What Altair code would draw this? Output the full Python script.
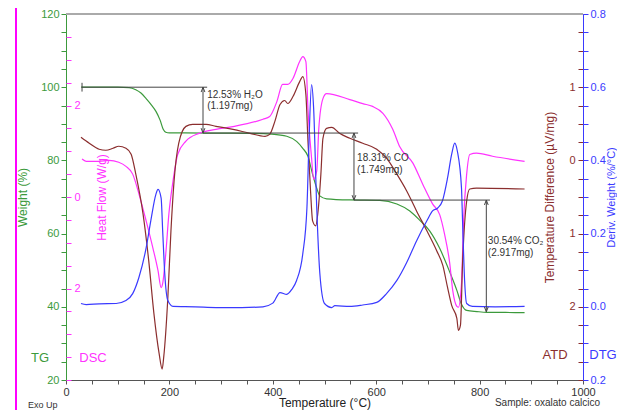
import altair as alt
import pandas as pd

# ---------------- data ----------------
# TG (weight %, green)
tg_T = [29, 60, 100, 122, 135, 145, 155, 165, 174, 182, 188, 193, 200, 230, 300, 360, 398, 427, 446, 458,
        468, 477, 485, 491, 504, 549, 607, 640, 665, 684, 703, 723, 742, 756, 765, 775, 795, 814, 850, 887]
tg_W = [100, 100, 100, 99.9, 99.3, 98.4, 96.9, 95.2, 93.4, 91.0, 88.5, 87.7, 87.5, 87.5, 87.45, 87.4, 87.2, 86.6, 85.2, 83.3,
        81.1, 76.2, 72.4, 70.3, 69.5, 69.2, 69.1, 68.1, 66.2, 63.7, 60.8, 55.9, 49.6, 44.5, 40.7, 39.0, 38.7, 38.5, 38.45, 38.4]

# DTG (deriv. weight %/°C, blue)
dtg_T = [29, 39, 64, 97, 116, 129, 141, 155, 164, 174, 178, 184, 187, 191, 197, 207, 250, 290, 340, 381,
         400, 414, 427, 437, 446, 458, 466, 470, 475, 479, 485, 491, 500, 514, 520, 549, 574, 601, 620, 640,
         659, 678, 698, 709, 719, 728, 738, 746, 752, 757, 765, 767, 771, 775, 786, 830, 887]
dtg_D = [0.009, 0.006, 0.008, 0.009, 0.017, 0.036, 0.080, 0.161, 0.235, 0.308, 0.321, 0.297, 0.208, 0.091, 0.017, 0.001, 0.0, -0.002, -0.002, 0.0,
         0.010, 0.039, 0.034, 0.048, 0.072, 0.145, 0.270, 0.452, 0.607, 0.542, 0.270, 0.091, 0.009, -0.002, 0.003, 0.001, 0.005, 0.012, 0.036, 0.072,
         0.121, 0.180, 0.235, 0.262, 0.270, 0.289, 0.352, 0.417, 0.447, 0.425, 0.324, 0.235, 0.072, 0.009, 0.001, 0.0, 0.001]

# DSC heat flow (W/g, magenta)
hf_T = [31, 39, 64, 83, 102, 116, 129, 141, 155, 168, 178, 184, 187, 193, 199, 207, 216, 232, 257, 290,
        323, 381, 394, 408, 419, 429, 439, 452, 458, 464, 468, 475, 479, 485, 489, 497, 504, 549, 574, 593,
        613, 632, 645, 671, 690, 709, 723, 732, 742, 748, 756, 759, 765, 769, 775, 781, 794, 825, 887]
hf_H = [0.83, 0.78, 0.78, 0.80, 0.76, 0.67, 0.50, 0.07, -0.52, -1.11, -1.61, -1.98, -1.89, -1.24, -0.37, 0.35, 0.93, 1.22, 1.39, 1.48,
        1.54, 1.70, 1.76, 2.09, 2.46, 2.46, 2.59, 2.96, 3.07, 2.96, 1.93, 0.85, 0.39, 0.57, 1.50, 2.15, 2.26, 2.13, 2.04, 1.98,
        1.83, 1.48, 1.11, 0.74, 0.28, -0.15, -0.39, -0.80, -1.43, -2.04, -2.39, -2.41, -1.89, -0.52, 0.50, 0.93, 0.96, 0.89, 0.78]

# ATD temperature difference (µV/mg, brown)
atd_T = [29, 45, 64, 77, 91, 102, 116, 126, 135, 149, 160, 170, 180, 186, 189, 197, 203, 209, 218, 232,
         245, 271, 290, 323, 356, 385, 394, 404, 414, 423, 429, 439, 452, 458, 464, 468, 473, 477, 483, 487,
         493, 497, 504, 514, 529, 549, 574, 601, 620, 640, 659, 678, 698, 717, 729, 738, 746, 756, 759, 763,
         767, 775, 781, 794, 887]
atd_A = [0.315, 0.234, 0.152, 0.139, 0.166, 0.193, 0.166, 0.084, -0.188, -0.731, -1.370, -2.090, -2.633, -2.851, -2.688, -1.872, -0.962, -0.283, 0.234, 0.465,
         0.492, 0.492, 0.465, 0.424, 0.370, 0.329, 0.356, 0.533, 0.764, 0.818, 0.777, 0.872, 1.076, 1.144, 0.899, 0.261, -0.418, -0.826, -0.894, -0.731,
         -0.188, 0.302, 0.438, 0.451, 0.370, 0.302, 0.234, 0.152, 0.030, -0.188, -0.418, -0.690, -0.962, -1.234, -1.438, -1.736, -1.981, -2.158, -2.321, -2.25,
         -1.41, -0.554, -0.391, -0.378, -0.391]

# mass-loss annotations
hseg_T1 = [31, 265, 557]
hseg_T2 = [273, 565, 820]
hseg_W = [100, 87.47, 69.16]
arr_T = [265, 557, 813]
arr_Wtop = [100, 87.47, 69.16]
arr_Wbot = [87.47, 69.16, 38.62]
ann_T = [273, 273, 563, 563, 816, 816]
ann_W = [98.0, 95.0, 80.6, 77.3, 58.0, 54.8]
ann_text = ["12.53% H\u2082O", "(1.197mg)", "18.31% CO", "(1.749mg)", "30.54% CO\u2082", "(2.917mg)"]

# ---------------- styling ----------------
FONT = "Liberation Sans"
GREEN = "#3c9a3c"
MAG = "#ff33ff"
BROWN = "#8b2e2e"
BLUE = "#3a3aff"
DARK = "#444444"
W_PLOT, H_PLOT = 517, 366
MID = H_PLOT / 2

title_common = dict(titleFont=FONT, titleFontWeight="normal",
                    titleAngle=270, titleBaseline="middle", titleAlign="center", titleY=MID)

xscale = alt.Scale(domain=[0, 1000], nice=False, zero=False)
xaxis = alt.Axis(values=list(range(0, 1001, 50)), format="d",
                 labelExpr="datum.value % 200 == 0 ? datum.label : ''",
                 tickSize=4, domainColor="#555555", tickColor="#555555", labelColor="#333333",
                 labelFontSize=11, labelFont=FONT, labelPadding=2, labelOverlap=False, labelFlush=False,
                 title="Temperature (°C)", titleFont=FONT, titleFontSize=12, titleFontWeight="normal",
                 titleColor="#222222", titlePadding=0, grid=False)
X = alt.X("T:Q", scale=xscale, axis=xaxis)

ax_w = alt.Axis(orient="left", values=list(range(20, 121, 5)),
                labelExpr="datum.value % 20 == 0 ? datum.label : ''",
                tickSize=5, domainColor=GREEN, tickColor=GREEN, labelColor=GREEN, labelFontSize=11,
                labelFont=FONT, labelOverlap=False, labelPadding=2,
                title="Weight (%)", titleColor=GREEN, titleFontSize=12, titleX=-44, grid=False,
                **title_common)
ax_h = alt.Axis(orient="right", offset=-W_PLOT, values=[v * 0.5 for v in range(-8, 9)],
                labelExpr="abs(datum.value) == 2 || datum.value == 0 ? '' + abs(datum.value) : ''",
                domain=False, tickSize=5, tickColor=MAG, labelColor=MAG, labelFontSize=11,
                labelFont=FONT, labelOverlap=False, labelPadding=3,
                title="Heat Flow (W/g)", titleColor=MAG, titleFontSize=12, titleX=35, grid=False,
                **title_common)
ax_a = alt.Axis(orient="left", offset=-W_PLOT, values=[v * 0.25 for v in range(-12, 9)],
                labelExpr="datum.value == round(datum.value) && datum.value >= -2 && datum.value <= 1 ? '' + abs(datum.value) : ''",
                domain=False, tickSize=5, tickColor=BROWN, labelColor=BROWN, labelFontSize=11,
                labelFont=FONT, labelOverlap=False, labelPadding=3,
                title="Temperature Difference (µV/mg)", titleColor=BROWN, titleFontSize=12,
                titleX=-34, grid=False, **title_common)
ax_d = alt.Axis(orient="right", values=[round(v * 0.05, 2) for v in range(-4, 17)],
                labelExpr="abs(round(datum.value * 20)) % 4 == 0 ? format(abs(datum.value), '.1f') : ''",
                domainColor=BLUE, tickColor=BLUE, tickSize=5, labelColor=BLUE, labelFontSize=11,
                labelFont=FONT, labelOverlap=False, labelPadding=2,
                title="Deriv. Weight (%/°C)", titleColor=BLUE, titleFontSize=11, titleX=28, grid=False,
                **title_common)

sc_w = alt.Scale(domain=[20, 120], nice=False, zero=False)
sc_h = alt.Scale(domain=[-4, 4], nice=False, zero=False)
sc_a = alt.Scale(domain=[-3, 2], nice=False, zero=False)
sc_d = alt.Scale(domain=[-0.2, 0.8], nice=False, zero=False)

df_tg = pd.DataFrame({"T": tg_T, "V": tg_W})
df_dtg = pd.DataFrame({"T": dtg_T, "V": dtg_D})
df_hf = pd.DataFrame({"T": hf_T, "V": hf_H})
df_atd = pd.DataFrame({"T": atd_T, "V": atd_A})

line_kw = dict(strokeWidth=1.2, interpolate="monotone")
tg = alt.Chart(df_tg).mark_line(color=GREEN, **line_kw).encode(x=X, y=alt.Y("V:Q", scale=sc_w, axis=ax_w))
hf = alt.Chart(df_hf).mark_line(color=MAG, **line_kw).encode(x=X, y=alt.Y("V:Q", scale=sc_h, axis=ax_h))
atd = alt.Chart(df_atd).mark_line(color=BROWN, **line_kw).encode(x=X, y=alt.Y("V:Q", scale=sc_a, axis=ax_a))
dtg = alt.Chart(df_dtg).mark_line(color=BLUE, **line_kw).encode(x=X, y=alt.Y("V:Q", scale=sc_d, axis=ax_d))

# annotation geometry
df_h = pd.DataFrame({"T": hseg_T1, "T2": hseg_T2, "V": hseg_W})
hlines = alt.Chart(df_h).mark_rule(color=DARK, strokeWidth=1).encode(
    x=X, x2="T2:Q", y=alt.Y("V:Q", scale=sc_w, axis=None))
df_cap = pd.DataFrame({"T": [hseg_T1[0]], "V": [hseg_W[0] + 1.2], "V2": [hseg_W[0] - 1.2]})
cap = alt.Chart(df_cap).mark_rule(color=DARK, strokeWidth=1).encode(
    x=X, y=alt.Y("V:Q", scale=sc_w, axis=None), y2="V2:Q")
df_v = pd.DataFrame({"T": arr_T, "V": arr_Wtop, "V2": arr_Wbot})
vlines = alt.Chart(df_v).mark_rule(color=DARK, strokeWidth=1).encode(
    x=X, y=alt.Y("V:Q", scale=sc_w, axis=None), y2="V2:Q")
up = alt.Chart(pd.DataFrame({"T": arr_T, "V": arr_Wtop})).mark_point(
    shape="M -1 2.6 L 0 0 L 1 2.6", filled=False, size=14, color=DARK, strokeWidth=1, opacity=1).encode(
    x=X, y=alt.Y("V:Q", scale=sc_w, axis=None))
down = alt.Chart(pd.DataFrame({"T": arr_T, "V": arr_Wbot})).mark_point(
    shape="M -1 -2.6 L 0 0 L 1 -2.6", filled=False, size=14, color=DARK, strokeWidth=1, opacity=1).encode(
    x=X, y=alt.Y("V:Q", scale=sc_w, axis=None))
texts = alt.Chart(pd.DataFrame({"T": ann_T, "V": ann_W, "txt": ann_text})).mark_text(
    align="left", baseline="middle", font=FONT, fontSize=10, color="#333333").encode(
    x=X, y=alt.Y("V:Q", scale=sc_w, axis=None), text="txt:N")

# decorations (corner labels, frame)
def label(txt, x, y, color, size, align="center"):
    return alt.Chart(pd.DataFrame({"t": [txt]})).mark_text(
        align=align, baseline="middle", font=FONT, fontSize=size, color=color).encode(
        x=alt.value(x), y=alt.value(y), text="t:N")

top_border = alt.Chart(pd.DataFrame({"a": [0]})).mark_rule(color="#aaaaaa", strokeWidth=2).encode(
    x=alt.value(0), x2=alt.value(W_PLOT), y=alt.value(0))
left_frame = alt.Chart(pd.DataFrame({"a": [0]})).mark_rule(color="#ff00ff", strokeWidth=2).encode(
    x=alt.value(-50), y=alt.value(-6), y2=alt.value(400))

chart = alt.layer(
    top_border, left_frame,
    tg, hf, atd, dtg,
    hlines, cap, vlines, up, down, texts,
    label("TG", -26, 344, GREEN, 13),
    label("DSC", 27, 344, MAG, 13),
    label("ATD", 489, 341, BROWN, 13),
    label("DTG", 537, 341, BLUE, 13),
    label("Exo Up", -38, 391, "#333333", 9, "left"),
    label("Sample: oxalato calcico", 534, 389, "#333333", 10, "right"),
).resolve_scale(y="independent").properties(
    width=W_PLOT, height=H_PLOT,
    autosize=alt.AutoSizeParams(type="none"),
    padding={"left": 58, "top": 6, "right": 34, "bottom": 30},
    background="white",
).configure_view(strokeWidth=0)

chart.save("out.html", embed_options={"renderer": "svg", "actions": False})
